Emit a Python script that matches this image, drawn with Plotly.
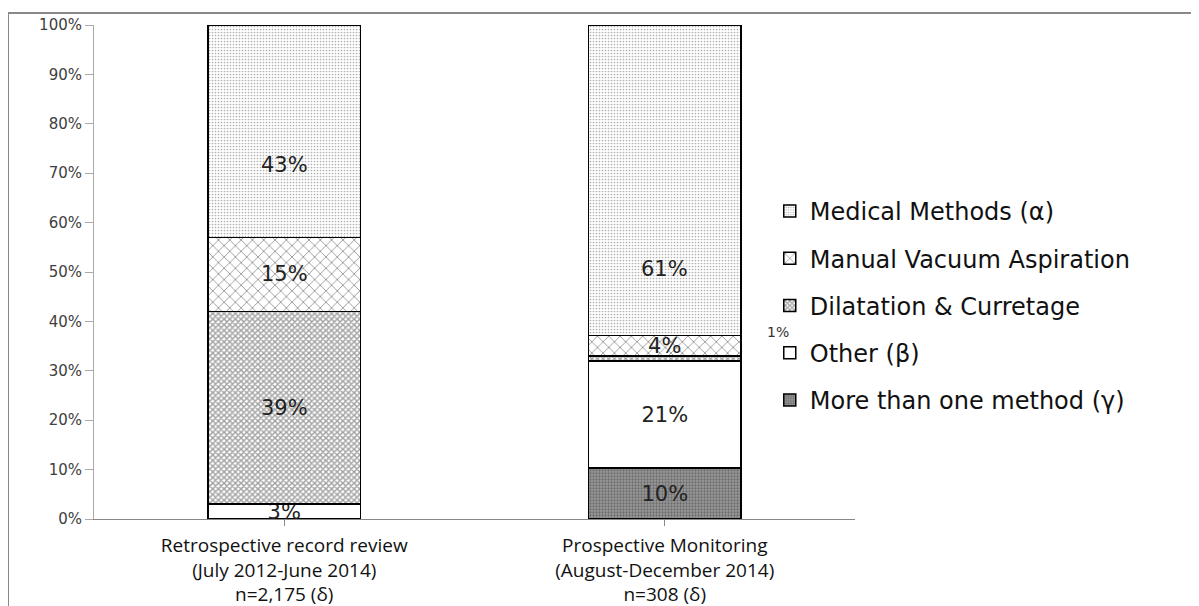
import plotly.graph_objects as go

categories = ["Retrospective record review<br>(July 2012-June 2014)<br>n=2,175 (δ)",
              "Prospective Monitoring<br>(August-December 2014)<br>n=308 (δ)"]
series_names = ["More than one method (γ)", "Other (β)", "Dilatation & Curretage",
                "Manual Vacuum Aspiration", "Medical Methods (α)"]
more_than_one = [0, 10]
other = [3, 21]
dilatation = [39, 1]
mva = [15, 4]
medical = [43, 61]
tick_vals = [0, 10, 20, 30, 40, 50, 60, 70, 80, 90, 100]
tick_text = [f"{v}%" for v in tick_vals]

series = [more_than_one, other, dilatation, mva, medical]
styles = [
    dict(bgcolor="#9a9a9a", fgcolor="#404040", shape=".", size=3, solidity=0.45),
    dict(bgcolor="white", fgcolor="white", shape="", size=4, solidity=0.1),
    dict(bgcolor="white", fgcolor="#444444", shape="x", size=4, solidity=0.6),
    dict(bgcolor="white", fgcolor="#222222", shape="x", size=8, solidity=0.2),
    dict(bgcolor="white", fgcolor="#606060", shape=".", size=3, solidity=0.25),
]

fig = go.Figure()
totals = [sum(s[i] for s in series) for i in range(len(categories))]
label_font = dict(family="DejaVu Sans", size=21, color="#222222")

annotations = []
for k, (name, vals, st) in enumerate(zip(series_names, series, styles)):
    texts = []
    for i, v in enumerate(vals):
        if v == 0 or v < 2 or name.startswith("Medical"):
            texts.append("")
        else:
            texts.append(f"{v}%")
    fig.add_trace(go.Bar(
        x=categories, y=vals, name=name, text=texts,
        textposition="inside", insidetextanchor="middle",
        textfont=label_font, width=0.40, legendgroup=name,
        legendrank=len(series_names) - k,
        marker=dict(color=st["bgcolor"], line=dict(color="black", width=1.5),
                    pattern=dict(shape=st["shape"], fgcolor=st["fgcolor"], bgcolor=st["bgcolor"],
                                 size=st["size"], solidity=st["solidity"], fillmode="overlay")),
        hoverinfo="skip",
    ))

for i, cat in enumerate(categories):
    cum = 0
    for k, vals in enumerate(series):
        v = vals[i]
        lo = cum / totals[i] * 100
        hi = (cum + v) / totals[i] * 100
        mid = (lo + hi) / 2
        name = series_names[k]
        if name.startswith("Medical"):
            annotations.append(dict(x=cat, y=mid, xref="x", yref="y", text=f"{v}%",
                                    showarrow=False, font=label_font,
                                    yshift=-34 if i == 0 else -89))
        elif 0 < v < 2:
            annotations.append(dict(x=cat, y=mid, xref="x", yref="y", text=f"{v}%",
                                    showarrow=False, xshift=113, yshift=27,
                                    font=dict(family="DejaVu Sans", size=14, color="#333")))
        cum += v

fig.update_layout(
    barmode="stack", barnorm="percent",
    width=1191, height=598,
    margin=dict(l=86, r=344, t=17, b=87, autoexpand=False),
    paper_bgcolor="white", plot_bgcolor="white",
    uniformtext=dict(minsize=19, mode="show"),
    showlegend=True,
    legend=dict(x=0.888, y=0.668, xanchor="left", yanchor="top",
                traceorder="grouped", tracegroupgap=13,
                font=dict(family="DejaVu Sans", size=24, color="#111"),
                itemwidth=30, bgcolor="rgba(0,0,0,0)"),
    annotations=annotations,
    shapes=[
        dict(type="line", xref="paper", yref="paper", x0=-0.113, x1=1.46, y0=1.0243, y1=1.0243,
             line=dict(color="#888", width=2)),
        dict(type="line", xref="paper", yref="paper", x0=-0.113, x1=-0.113, y0=1.0243, y1=-0.2,
             line=dict(color="#888", width=2)),
    ],
)
fig.update_xaxes(showline=True, linecolor="#888", linewidth=1, ticks="outside", ticklen=6,
                 tickcolor="#888", showgrid=False, automargin=False, ticklabelstandoff=3,
                 tickfont=dict(family="Open Sans", size=19, color="#111"))
fig.update_yaxes(range=[0, 100], tickvals=tick_vals, ticktext=tick_text, showline=True,
                 linecolor="#aaa", linewidth=1, ticks="outside", ticklen=8, tickcolor="#aaa",
                 showgrid=False, zeroline=False, automargin=False,
                 tickfont=dict(family="DejaVu Sans", size=15, color="#404040"))

fig.write_html("out.html")
